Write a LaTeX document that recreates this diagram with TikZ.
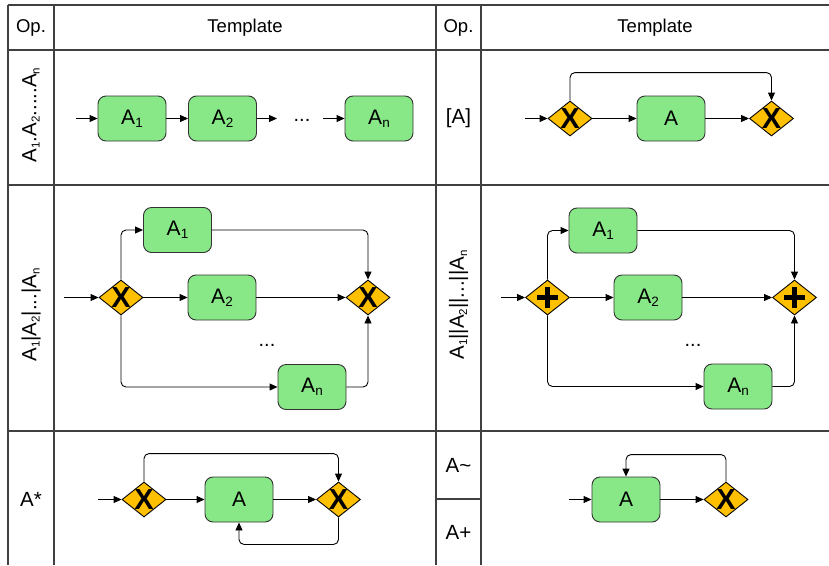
\documentclass[tikz,border=0pt]{standalone}
\usepackage{fontspec}
\setmainfont{Liberation Sans}
\usetikzlibrary{arrows.meta,shapes.geometric}
\definecolor{boxgreen}{RGB}{136,232,136}
\definecolor{gwyellow}{RGB}{255,192,0}
\newcommand{\sbs}[1]{\raisebox{-0.3ex}{\fontsize{13.5}{13.5}\selectfont #1}}
\newcommand{\lsbs}[1]{\raisebox{-0.3ex}{\fontsize{11.5}{11.5}\selectfont #1}}
\begin{document}
\begin{tikzpicture}[x=1pt,y=-1pt,
  gridline/.style={draw=black!75,line width=1.2pt},
  act/.style={draw=black!80,fill=boxgreen,rounded corners=8pt,minimum width=68pt,minimum height=45pt,line width=0.9pt,inner sep=0pt,font=\fontsize{21}{25}\selectfont},
  gw/.style={diamond,draw=black,fill=gwyellow,minimum width=44pt,minimum height=35pt,inner sep=0pt,line width=0.9pt},
  xgw/.style={gw,label={[font=\fontsize{29}{29}\selectfont\bfseries,inner sep=0pt]center:X}},
  arr/.style={-{Triangle[length=8pt,width=7pt]},line width=0.9pt,rounded corners=5pt},
  hdr/.style={font=\fontsize{18.5}{22}\selectfont,inner sep=0pt},
  lbl/.style={font=\fontsize{20.5}{24}\selectfont,inner sep=0pt},
  dotsn/.style={font=\fontsize{20}{24}\selectfont,inner sep=0pt}
]
\useasboundingbox (0,0) rectangle (829,565);
\fill[white] (0,0) rectangle (829,565);
% table
\draw[gridline] (8,5) -- (829,5);
\draw[gridline] (8,50) -- (829,50);
\draw[gridline] (8,185) -- (829,185);
\draw[gridline] (8,431) -- (829,431);
\draw[gridline] (436,499) -- (481,499);
\draw[gridline] (8,5) -- (8,565);
\draw[gridline] (54,5) -- (54,565);
\draw[gridline] (436,5) -- (436,565);
\draw[gridline] (481,5) -- (481,565);
% headers
\node[hdr] (h1) at (31,27.5) {Op.};
\node[hdr] (h2) at (245,27.5) {Template};
\node[hdr] (h3) at (458.5,27.5) {Op.};
\node[hdr] (h4) at (655,27.5) {Template};
% op labels
\node[lbl,rotate=90] (l1) at (31,115) {A\lsbs{1}.A\lsbs{2}.....A\lsbs{n}};
\node[lbl,rotate=90] (l2) at (31,315) {A\lsbs{1}|A\lsbs{2}|...|A\lsbs{n}};
\node[lbl,rotate=90] (l3) at (458.5,305) {A\lsbs{1}||A\lsbs{2}||...||A\lsbs{n}};
\node[lbl] (l4) at (458.5,118) {[A]};
\node[lbl] (l5) at (31,499) {A*};
\node[lbl] (l6) at (458.5,465) {A\textasciitilde};
\node[lbl] (l7) at (458.5,532) {A+};
% row 1 left: sequence
\coordinate (s1) at (76,118.5);
\node[act] (a11) at (132,118.5) {A\sbs{1}};
\node[act] (a12) at (222.5,118.5) {A\sbs{2}};
\node[act] (a1n) at (379,118.5) {A\sbs{n}};
\coordinate (e1) at (277,118.5);
\coordinate (d1) at (323,118.5);
\node[dotsn] (dt1) at (302,120) {...};
\draw[arr] (s1) -- (a11);
\draw[arr] (a11) -- (a12);
\draw[arr] (a12) -- (e1);
\draw[arr] (d1) -- (a1n);
% row 1 right: optional
\coordinate (s2) at (525,118.5);
\node[xgw] (g1) at (570,118.5) {};
\node[act] (b1) at (671,118.5) {A};
\node[xgw] (g2) at (771.5,118.5) {};
\draw[arr] (s2) -- (g1);
\draw[arr] (g1) -- (b1);
\draw[arr] (b1) -- (g2);
\draw[arr] (g1.north) -- ++(0,-28) -| (g2.north);
% row 2 left: choice
\coordinate (s3) at (64,297.5);
\node[xgw] (gx1) at (121,297.5) {};
\node[act] (c1) at (177.5,230) {A\sbs{1}};
\node[act] (c2) at (222,297.5) {A\sbs{2}};
\node[act] (cn) at (312,387) {A\sbs{n}};
\node[xgw] (gx2) at (368,297.5) {};
\node[dotsn] (dt2) at (267,345) {...};
\draw[arr] (s3) -- (gx1);
\draw[arr] (gx1.north) |- (c1.west);
\draw[arr] (gx1.east) -- (c2.west);
\draw[arr] (gx1.south) |- (cn.west);
\draw[arr] (c1.east) -| (gx2.north);
\draw[arr] (c2.east) -- (gx2.west);
\draw[arr] (cn.east) -| (gx2.south);
% row 2 right: parallel
\coordinate (s4) at (501,297.5);
\node[gw] (gp1) at (547.5,297.5) {};
\node[act] (p1) at (603,230.5) {A\sbs{1}};
\node[act] (p2) at (648,297.5) {A\sbs{2}};
\node[act] (pn) at (738,386.5) {A\sbs{n}};
\node[gw] (gp2) at (794.5,297.5) {};
\node[dotsn] (dt3) at (693,345) {...};
\foreach \g in {gp1,gp2}{
  \draw[line width=4.5pt] ([xshift=-10.5pt]\g.center) -- ([xshift=10.5pt]\g.center);
  \draw[line width=4.5pt] ([yshift=-10.5pt]\g.center) -- ([yshift=10.5pt]\g.center);
}
\draw[arr] (s4) -- (gp1);
\draw[arr] (gp1.north) |- (p1.west);
\draw[arr] (gp1.east) -- (p2.west);
\draw[arr] (gp1.south) |- (pn.west);
\draw[arr] (p1.east) -| (gp2.north);
\draw[arr] (p2.east) -- (gp2.west);
\draw[arr] (pn.east) -| (gp2.south);
% row 3 left: loop
\coordinate (s5) at (98,499.5);
\node[xgw] (gs1) at (144,499.5) {};
\node[act] (sa) at (239,499.5) {A};
\node[xgw] (gs2) at (338.5,499.5) {};
\draw[arr] (s5) -- (gs1);
\draw[arr] (gs1) -- (sa);
\draw[arr] (sa) -- (gs2);
\draw[arr] (gs1.north) -- ++(0,-28) -| (gs2.north);
\draw[arr] (gs2.south) -- ++(0,27) -| (sa.south);
% row 3 right
\coordinate (s6) at (569,499.5);
\node[act] (ta) at (626,499.5) {A};
\node[xgw] (gt) at (726,499.5) {};
\draw[arr] (s6) -- (ta);
\draw[arr] (ta) -- (gt);
\draw[arr] (gt.north) -- ++(0,-27) -| (ta.north);
\end{tikzpicture}
\end{document}
